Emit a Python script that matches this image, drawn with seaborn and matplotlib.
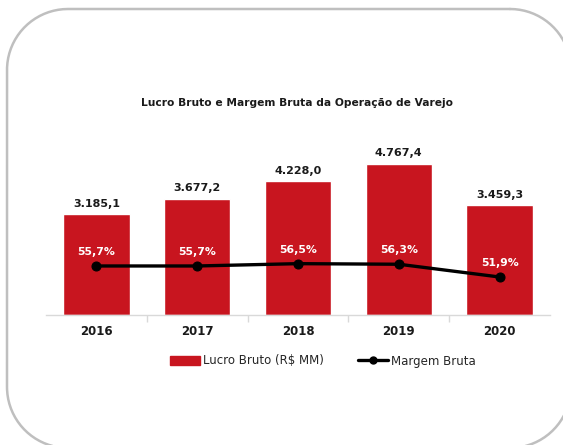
import numpy as np
import pandas as pd
import matplotlib
matplotlib.use("Agg")
import matplotlib.pyplot as plt
import seaborn as sns
from matplotlib.patches import Patch
from matplotlib.lines import Line2D

# data
years = ["2016", "2017", "2018", "2019", "2020"]
lucro_bruto = [3185.1, 3677.2, 4228.0, 4767.4, 3459.3]
margem_bruta = [55.7, 55.7, 56.5, 56.3, 51.9]
lucro_labels = ["3.185,1", "3.677,2", "4.228,0", "4.767,4", "3.459,3"]
margem_labels = ["55,7%", "55,7%", "56,5%", "56,3%", "51,9%"]

RED = "#C8151F"
GRAY = "#BFBFBF"

sns.set_theme(style="white")
plt.rcParams['font.family'] = ['DejaVu Sans']

df = pd.DataFrame({"ano": years, "lucro": lucro_bruto, "margem": margem_bruta})

fig = plt.figure(figsize=(5.63, 4.45), dpi=100)

# rounded frame drawn in pixel coordinates (circular corners)
bg = fig.add_axes([0, 0, 1, 1])
bg.set_xlim(0, 563)
bg.set_ylim(445, 0)
bg.axis("off")
x0, y0, x1, y1, r = 7, 9, 571, 448, 61
corners = [((x1 - r, y0 + r), -90, 0), ((x1 - r, y1 - r), 0, 90),
           ((x0 + r, y1 - r), 90, 180), ((x0 + r, y0 + r), 180, 270)]
fx, fy = [], []
for (cx, cy), a0, a1 in corners:
    t = np.radians(np.linspace(a0, a1, 40))
    fx.extend(cx + r * np.cos(t))
    fy.extend(cy + r * np.sin(t))
fx.append(fx[0])
fy.append(fy[0])
bg.plot(fx, fy, color=GRAY, lw=1.8, solid_capstyle="round")

ax = fig.add_axes([46 / 563, 130 / 445, 504 / 563, 190 / 445])
sns.barplot(data=df, x="ano", y="lucro", color=RED, width=0.66,
            saturation=1, ax=ax)
ax.set_ylim(0, 6000)
ax.set_xlim(-0.5, 4.5)

for i, (v, lab) in enumerate(zip(lucro_bruto, lucro_labels)):
    ax.annotate(lab, (i, v), xytext=(0, 4), textcoords="offset points",
                ha="center", va="bottom", fontsize=8, fontweight="bold",
                color="#1a1a1a")

ax2 = ax.twinx()
sns.lineplot(x=np.arange(len(years)), y=margem_bruta, ax=ax2, color="black",
             lw=2.4, marker="o", markersize=6.5, markeredgecolor="black")
ax2.set_ylim(38.8, 104.3)

for i, (v, lab) in enumerate(zip(margem_bruta, margem_labels)):
    ax2.annotate(lab, (i, v), xytext=(0, 6.5), textcoords="offset points",
                 ha="center", va="bottom", fontsize=7.8, fontweight="bold",
                 color="white")

for a in (ax, ax2):
    for s in ["top", "right", "left"]:
        a.spines[s].set_visible(False)
    a.set_yticks([])
    a.set_ylabel("")
ax2.spines["bottom"].set_visible(False)
ax.spines["bottom"].set_color("#D9D9D9")
ax.spines["bottom"].set_linewidth(1)

ax.set_xlabel("")
ax.set_xticks(range(len(years)))
ax.set_xticklabels(years, fontsize=8.5, fontweight="bold", color="#1a1a1a")
ax.tick_params(axis="x", which="major", length=0, pad=7)
ax.set_xticks([0.5, 1.5, 2.5, 3.5], minor=True)
ax.tick_params(axis="x", which="minor", length=5, color="#D9D9D9",
               width=1, bottom=True)

fig.text(297 / 563, 342 / 445, "Lucro Bruto e Margem Bruta da Operação de Varejo",
         ha="center", va="center", fontsize=7.7, fontweight="bold",
         color="#1a1a1a")

handles = [Patch(facecolor=RED, edgecolor=RED),
           Line2D([0], [0], color="black", lw=2.4, marker="o", markersize=5)]
fig.legend(handles, ["Lucro Bruto (R$ MM)", "Margem Bruta"],
           loc="center", bbox_to_anchor=(0.573, 84 / 445), ncol=2,
           frameon=False, fontsize=8.5, handlelength=2.6, handletextpad=0.2,
           columnspacing=2.9, handleheight=0.8)

fig.savefig("out.png", dpi=100)
